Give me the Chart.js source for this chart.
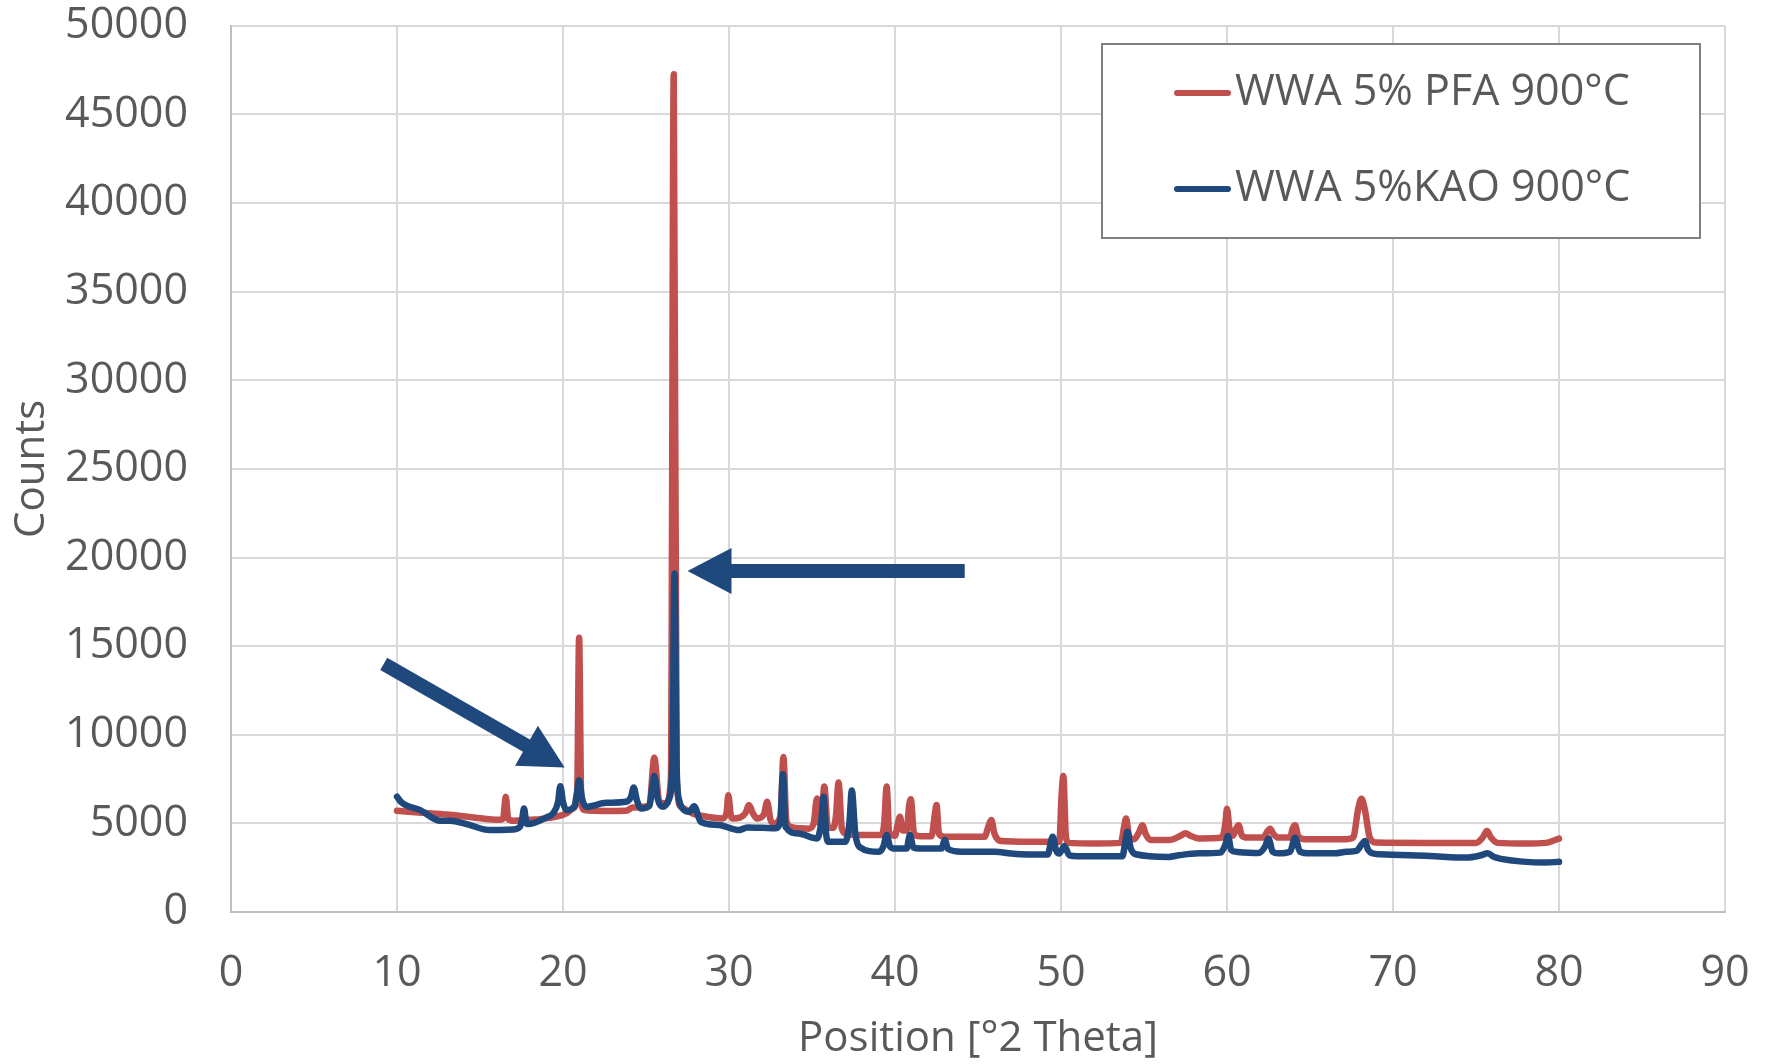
<!DOCTYPE html>
<html>
<head>
<meta charset="utf-8">
<script src="https://cdn.jsdelivr.net/npm/chart.js@4.4.1/dist/chart.umd.min.js"></script>
<style>
  html, body { margin: 0; padding: 0; background: #ffffff; }
  canvas { display: block; }
</style>
</head>
<body>
<canvas id="xrd" width="1770" height="1064"></canvas>
<script>
// WWA 5% PFA 900°C
var pfaPos = [10.0, 11.5, 13.0, 14.5, 16.2, 16.4, 16.55, 16.7, 17.0, 18.0, 19.0, 20.2, 20.6, 20.85, 20.97, 21.1, 21.3, 22.5, 23.8, 24.2,
  25.2, 25.5, 25.8, 26.2, 26.5, 26.67, 26.85, 27.1, 27.8, 28.5, 29.6, 29.85, 29.96, 30.1, 30.2, 30.7, 31.0, 31.2, 31.45, 31.7,
  32.1, 32.3, 32.5, 32.7, 33.1, 33.28, 33.45, 33.7, 34.3, 34.8, 35.1, 35.3, 35.45, 35.6, 35.74, 35.95, 36.3, 36.45, 36.6, 36.8,
  37.1, 38.0, 39.2, 39.35, 39.5, 39.65, 40.0, 40.15, 40.3, 40.45, 40.7, 40.85, 40.95, 41.15, 41.5, 42.2, 42.4, 42.5, 42.65, 43.0,
  45.4, 45.65, 45.8, 46.0, 46.4, 48.0, 49.9, 50.03, 50.14, 50.3, 50.5, 52.0, 53.6, 53.8, 53.92, 54.1, 54.4, 54.7, 54.9, 55.1,
  55.4, 56.5, 57.2, 57.5, 57.8, 58.3, 59.7, 59.9, 60.0, 60.15, 60.35, 60.55, 60.7, 60.9, 61.2, 62.2, 62.4, 62.6, 62.8, 63.1,
  63.8, 63.95, 64.1, 64.3, 64.7, 67.0, 67.6, 67.9, 68.1, 68.3, 68.6, 69.0, 72.0, 75.0, 75.4, 75.66, 75.9, 76.3, 78.0, 79.2, 80.0];
var pfaCounts = [5710, 5600, 5500, 5350, 5200, 5300, 6500, 5250, 5150, 5200, 5280, 5560, 5840, 6500, 15480, 6200, 5750, 5700, 5710, 5900,
  6000, 8700, 6200, 6130, 7500, 47260, 7500, 5940, 5560, 5400, 5280, 5600, 6590, 5500, 5280, 5350, 5600, 6030, 5550, 5280,
  5500, 6220, 5200, 5000, 5400, 8750, 5200, 4810, 4720, 4700, 5000, 6400, 5000, 5500, 7080, 4800, 4750, 5500, 7300, 4700,
  4400, 4340, 4340, 5000, 7080, 4500, 4300, 4900, 5380, 4600, 4600, 6000, 6360, 4400, 4280, 4280, 5500, 6040, 4400, 4250,
  4250, 4900, 5190, 4400, 4000, 3960, 3960, 6500, 7680, 4200, 3900, 3870, 3900, 4800, 5280, 4300, 4100, 4500, 4900, 4400,
  4060, 4060, 4300, 4450, 4300, 4150, 4200, 5000, 5820, 4700, 4300, 4700, 4890, 4300, 4200, 4200, 4500, 4700, 4400, 4200,
  4200, 4700, 4890, 4250, 4100, 4100, 4200, 5800, 6390, 5800, 4200, 3920, 3900, 3900, 4200, 4570, 4200, 3900, 3860, 3900, 4140];

// WWA 5%KAO 900°C
var kaoPos = [10.0, 10.3, 11.4, 12.6, 13.2, 14.2, 15.6, 17.0, 17.4, 17.55, 17.65, 17.8, 17.9, 19.0, 19.4, 19.7, 19.84, 20.0, 20.2, 20.7,
  20.85, 20.97, 21.15, 21.4, 22.6, 23.8, 24.1, 24.26, 24.45, 24.7, 25.2, 25.4, 25.5, 25.7, 26.0, 26.4, 26.6, 26.72, 26.85, 27.0,
  27.2, 27.6, 27.9, 28.3, 29.4, 30.6, 31.1, 32.0, 32.8, 33.1, 33.25, 33.4, 34.2, 35.3, 35.55, 35.7, 35.85, 36.0, 37.0, 37.25,
  37.4, 37.6, 37.85, 39.05, 39.3, 39.5, 39.7, 40.0, 40.7, 40.9, 41.1, 41.5, 42.8, 43.0, 43.2, 44.0, 46.0, 47.0, 48.0, 49.2,
  49.5, 49.7, 49.9, 50.2, 50.5, 51.0, 53.7, 53.85, 54.0, 54.2, 54.5, 56.5, 57.1, 58.3, 59.6, 59.9, 60.06, 60.25, 60.6, 61.9,
  62.3, 62.5, 62.75, 63.1, 63.8, 64.1, 64.4, 65.0, 66.5, 67.2, 67.8, 68.1, 68.3, 68.5, 68.8, 69.2, 72.2, 74.4, 75.3, 75.7,
  76.1, 76.5, 79.2, 80.0];
var kaoCounts = [6500, 6160, 5750, 5150, 5150, 4960, 4620, 4660, 4800, 5300, 5840, 5000, 4960, 5340, 5560, 6200, 7100, 6200, 5750, 6000,
  6800, 7430, 6400, 5940, 6160, 6220, 6500, 7030, 6300, 5840, 6000, 7200, 7680, 6400, 5940, 6410, 9000, 19100, 8000, 6300,
  5840, 5650, 5970, 5090, 4910, 4620, 4770, 4750, 4720, 5200, 7780, 4810, 4430, 4150, 5000, 6500, 4400, 3960, 3960, 5000,
  6850, 4500, 3680, 3400, 3700, 4340, 3700, 3580, 3580, 4340, 3650, 3580, 3580, 4060, 3550, 3400, 3400, 3300, 3250, 3250,
  4250, 3500, 3300, 3720, 3200, 3150, 3150, 3800, 4530, 3600, 3260, 3110, 3200, 3310, 3350, 3800, 4290, 3500, 3390, 3330,
  3700, 4140, 3400, 3310, 3400, 4190, 3400, 3310, 3310, 3400, 3450, 3800, 4010, 3500, 3300, 3260, 3160, 3070, 3200, 3310,
  3100, 3000, 2790, 2830];

var seriesNames = ['WWA 5% PFA 900°C', 'WWA 5%KAO 900°C'];

// annotation arrows, in data units: [fromX, fromY, toX, toY]
var arrowsData = [
  [9.2, 14000, 20.1, 8150],
  [44.2, 19240, 27.5, 19240]
];

var textColor = '#595959';
var fontFamily = '"Open Sans", "Liberation Sans", sans-serif';

function toPoints(xs, ys) {
  return xs.map(function(x, i) { return { x: x, y: ys[i] }; });
}

var arrowPlugin = {
  id: 'arrows',
  afterDatasetsDraw: function(chart) {
    var ctx = chart.ctx;
    var sx = chart.scales.x, sy = chart.scales.y;
    ctx.save();
    ctx.fillStyle = '#1F497D';
    arrowsData.forEach(function(a) {
      var x1 = sx.getPixelForValue(a[0]), y1 = sy.getPixelForValue(a[1]);
      var x2 = sx.getPixelForValue(a[2]), y2 = sy.getPixelForValue(a[3]);
      var ang = Math.atan2(y2 - y1, x2 - x1);
      var len = Math.hypot(x2 - x1, y2 - y1);
      var headLen = 44, headW = 46, shaftW = 14;
      ctx.save();
      ctx.translate(x1, y1);
      ctx.rotate(ang);
      ctx.beginPath();
      ctx.moveTo(0, -shaftW / 2);
      ctx.lineTo(len - headLen, -shaftW / 2);
      ctx.lineTo(len - headLen, -headW / 2);
      ctx.lineTo(len, 0);
      ctx.lineTo(len - headLen, headW / 2);
      ctx.lineTo(len - headLen, shaftW / 2);
      ctx.lineTo(0, shaftW / 2);
      ctx.closePath();
      ctx.fill();
      ctx.restore();
    });
    ctx.restore();
  }
};

var legendPlugin = {
  id: 'boxLegend',
  afterDraw: function(chart) {
    var ctx = chart.ctx;
    var bx = 1102, by = 44, bw = 598, bh = 194;
    ctx.save();
    ctx.fillStyle = '#ffffff';
    ctx.fillRect(bx, by, bw, bh);
    ctx.strokeStyle = '#808080';
    ctx.lineWidth = 2;
    ctx.strokeRect(bx, by, bw, bh);
    var rows = [93, 189];
    chart.data.datasets.forEach(function(ds, i) {
      var y = rows[i];
      ctx.strokeStyle = ds.borderColor;
      ctx.lineWidth = 6;
      ctx.lineCap = 'round';
      ctx.beginPath();
      ctx.moveTo(1177, y);
      ctx.lineTo(1228, y);
      ctx.stroke();
      ctx.fillStyle = textColor;
      ctx.font = '43px ' + fontFamily;
      ctx.textAlign = 'left';
      ctx.textBaseline = 'middle';
      ctx.fillText(ds.label, 1235, y);
    });
    ctx.restore();
  }
};

var bgPlugin = {
  id: 'bg',
  beforeDraw: function(chart) {
    var ctx = chart.ctx;
    ctx.save();
    ctx.fillStyle = '#ffffff';
    ctx.fillRect(0, 0, chart.width, chart.height);
    ctx.restore();
  }
};

function plainTick(v) { return String(v); }

var canvas = document.getElementById('xrd');
var chart = new Chart(canvas.getContext('2d'), {
  type: 'scatter',
  data: {
    datasets: [
      {
        label: seriesNames[0],
        data: toPoints(pfaPos, pfaCounts),
        showLine: true,
        borderColor: '#C0504D',
        backgroundColor: '#C0504D',
        borderWidth: 6.5,
        pointRadius: 0,
        borderJoinStyle: 'round',
        borderCapStyle: 'round',
        cubicInterpolationMode: 'monotone',
        order: 2
      },
      {
        label: seriesNames[1],
        data: toPoints(kaoPos, kaoCounts),
        showLine: true,
        borderColor: '#1F497D',
        backgroundColor: '#1F497D',
        borderWidth: 6.5,
        pointRadius: 0,
        borderJoinStyle: 'round',
        borderCapStyle: 'round',
        cubicInterpolationMode: 'monotone',
        order: 1
      }
    ]
  },
  options: {
    responsive: false,
    animation: false,
    layout: { padding: { left: 0, right: 45, top: 0, bottom: 0 } },
    plugins: {
      legend: { display: false },
      tooltip: { enabled: false }
    },
    scales: {
      x: {
        type: 'linear',
        min: 0,
        max: 90,
        ticks: { stepSize: 10, color: textColor, font: { family: fontFamily, size: 43 }, padding: 1, callback: plainTick },
        grid: { color: '#D9D9D9', lineWidth: 2, drawTicks: true, tickLength: 35, tickColor: 'rgba(0,0,0,0)' },
        border: { color: '#BFBFBF', width: 2 },
        title: { display: true, text: 'Position [°2 Theta]', color: textColor, font: { family: fontFamily, size: 42 }, padding: { top: 0, bottom: 0 } },
        afterFit: function(scale) { scale.height = 152; }
      },
      y: {
        type: 'linear',
        min: 0,
        max: 50000,
        ticks: { stepSize: 5000, color: textColor, font: { family: fontFamily, size: 43 }, padding: 0, callback: plainTick },
        grid: { color: '#D9D9D9', lineWidth: 2, drawTicks: true, tickLength: 43, tickColor: 'rgba(0,0,0,0)' },
        border: { color: '#BFBFBF', width: 2 },
        title: { display: true, text: 'Counts', color: textColor, font: { family: fontFamily, size: 42 }, padding: { top: 7, bottom: 0 } },
        afterFit: function(scale) { scale.width = 231; }
      }
    }
  },
  plugins: [bgPlugin, arrowPlugin, legendPlugin]
});
</script>
</body>
</html>
